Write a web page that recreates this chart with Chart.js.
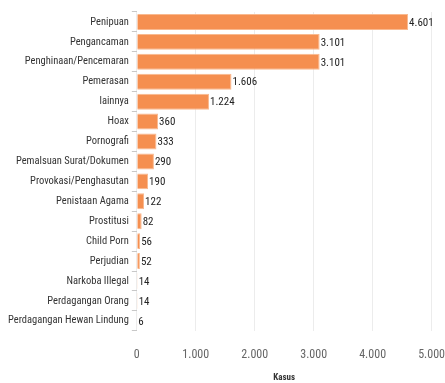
<!DOCTYPE html>
<html>
<head>
<meta charset="utf-8">
<script src="https://cdn.jsdelivr.net/npm/chart.js@4/dist/chart.umd.min.js"></script>
<style>
  html, body { margin: 0; padding: 0; background: #fff; }
  #wrap { width: 445px; height: 383px; }
</style>
</head>
<body>
<div id="wrap"><canvas id="kasusChart"></canvas></div>
<script>
// jenis kejahatan siber dan jumlah kasus
const categories = [
  'Penipuan', 'Pengancaman', 'Penghinaan/Pencemaran', 'Pemerasan', 'lainnya',
  'Hoax', 'Pornografi', 'Pemalsuan Surat/Dokumen', 'Provokasi/Penghasutan',
  'Penistaan Agama', 'Prostitusi', 'Child Porn', 'Perjudian', 'Narkoba Illegal',
  'Perdagangan Orang', 'Perdagangan Hewan Lindung'
];
const kasus = [4601, 3101, 3101, 1606, 1224, 360, 333, 290, 190, 122, 82, 56, 52, 14, 14, 6];
const xTicks = [0, 1000, 2000, 3000, 4000, 5000];

// angka dengan pemisah ribuan titik (1.000)
function formatAngka(n) {
  return String(Math.round(n)).replace(/\B(?=(\d{3})+(?!\d))/g, '.');
}

const fontName = "'Roboto Condensed', 'Roboto', sans-serif";

// tulis nilai di ujung setiap batang
const labelNilai = {
  id: 'labelNilai',
  afterDatasetsDraw(chart) {
    const ctx = chart.ctx;
    const meta = chart.getDatasetMeta(0);
    ctx.save();
    ctx.font = '11px ' + fontName;
    ctx.fillStyle = '#222';
    ctx.textBaseline = 'middle';
    ctx.textAlign = 'left';
    meta.data.forEach((bar, i) => {
      ctx.fillText(formatAngka(kasus[i]), bar.x + 1, bar.y + 1);
    });
    ctx.restore();
  }
};

const ctx = document.getElementById('kasusChart').getContext('2d');
new Chart(ctx, {
  type: 'bar',
  data: {
    labels: categories,
    datasets: [{
      label: 'Kasus',
      data: kasus,
      backgroundColor: '#f58f50',
      borderColor: '#f9b98f',
      borderWidth: 1,
      barPercentage: 0.8,
      categoryPercentage: 1.0
    }]
  },
  options: {
    indexAxis: 'y',
    responsive: true,
    maintainAspectRatio: false,
    animation: false,
    layout: { padding: { top: 12, right: 0, left: 5, bottom: 0 } },
    plugins: {
      legend: { display: false },
      tooltip: { enabled: false }
    },
    scales: {
      x: {
        min: 0,
        max: 5000,
        afterBuildTicks(axis) {
          axis.ticks = xTicks.map(v => ({ value: v }));
        },
        // jarak label sumbu x lewat tickLength transparan (padding ikut menambah margin kanan)
        grid: { color: '#ececec', drawTicks: true, tickLength: 17, tickColor: 'rgba(0,0,0,0)' },
        border: { display: false },
        ticks: {
          padding: 0,
          color: '#666',
          font: { family: fontName, size: 12 },
          callback: v => formatAngka(v)
        },
        title: {
          display: true,
          text: 'Kasus',
          color: '#333',
          font: { family: fontName, size: 9, weight: 'bold' },
          padding: { top: 10, bottom: 0 }
        }
      },
      y: {
        grid: { drawOnChartArea: false, drawTicks: true, tickLength: 5, color: '#c8c8c8' },
        border: { display: false },
        ticks: {
          padding: 3,
          color: '#333',
          autoSkip: false,
          font: { family: fontName, size: 10.5 }
        }
      }
    }
  },
  plugins: [labelNilai]
});
</script>
</body>
</html>
